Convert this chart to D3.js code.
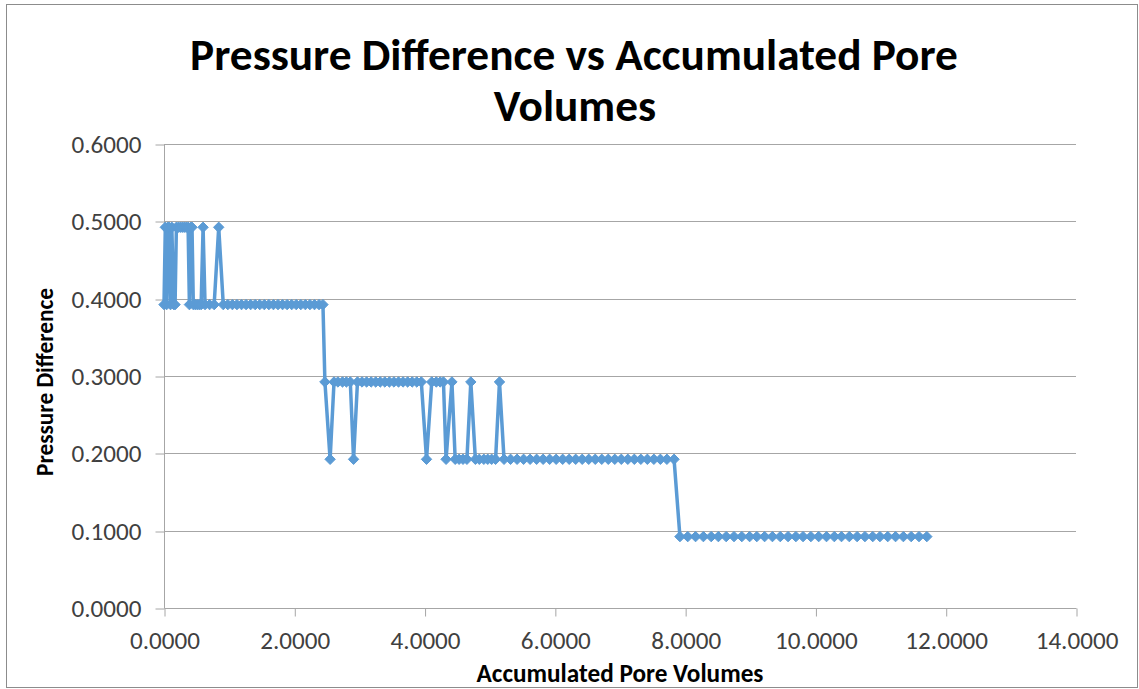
<!DOCTYPE html>
<html>
<head>
<meta charset="utf-8">
<script src="https://cdn.jsdelivr.net/npm/d3@7"></script>
<style>
  html, body { margin: 0; padding: 0; background: #fff; }
  svg { display: block; }
  text { font-family: Carlito, Calibri, Lato, "Open Sans", sans-serif; }
</style>
</head>
<body>
<svg id="chart" width="1139" height="689"></svg>
<script>
// ---------------- DATA ----------------
const chartTitle = ["Pressure Difference vs Accumulated Pore", "Volumes"];
const xTitle = "Accumulated Pore Volumes";
const yTitle = "Pressure Difference";
const xTicks = [0, 2, 4, 6, 8, 10, 12, 14];
const yTicks = [0, 0.1, 0.2, 0.3, 0.4, 0.5, 0.6];

// [accumulated pore volumes, pressure difference]
const points = [
  [0.00,0.3923],[0.02,0.4923],[0.04,0.3923],[0.06,0.4923],[0.08,0.4923],[0.10,0.3923],
  [0.12,0.4923],[0.15,0.3923],[0.17,0.3923],[0.19,0.4923],[0.22,0.4923],[0.25,0.4923],
  [0.28,0.4923],[0.31,0.4923],[0.34,0.4923],[0.37,0.4923],[0.39,0.3923],[0.41,0.4923],
  [0.43,0.4923],[0.45,0.3923],[0.48,0.3923],[0.51,0.3923],[0.54,0.3923],[0.57,0.3923],
  [0.60,0.4923],[0.63,0.3923],[0.70,0.3923],[0.77,0.3923],[0.84,0.4923],[0.91,0.3923],
  [0.98,0.3923],[1.05,0.3923],[1.12,0.3923],[1.19,0.3923],[1.26,0.3923],[1.33,0.3923],
  [1.40,0.3923],[1.47,0.3923],[1.54,0.3923],[1.61,0.3923],[1.68,0.3923],[1.75,0.3923],
  [1.82,0.3923],[1.89,0.3923],[1.96,0.3923],[2.03,0.3923],[2.10,0.3923],[2.17,0.3923],
  [2.24,0.3923],[2.31,0.3923],[2.38,0.3923],[2.44,0.3923],
  [2.47,0.2923],[2.55,0.1923],[2.61,0.2923],[2.67,0.2923],[2.74,0.2923],[2.80,0.2923],
  [2.86,0.2923],[2.91,0.1923],[2.97,0.2923],[3.04,0.2923],[3.11,0.2923],[3.18,0.2923],
  [3.25,0.2923],[3.32,0.2923],[3.39,0.2923],[3.46,0.2923],[3.53,0.2923],[3.60,0.2923],
  [3.67,0.2923],[3.74,0.2923],[3.81,0.2923],[3.88,0.2923],[3.95,0.2923],[4.03,0.1923],
  [4.11,0.2923],[4.18,0.2923],[4.24,0.2923],[4.29,0.2923],[4.33,0.1923],[4.42,0.2923],
  [4.47,0.1923],[4.53,0.1923],[4.59,0.1923],[4.65,0.1923],[4.71,0.2923],[4.78,0.1923],
  [4.84,0.1923],[4.91,0.1923],[4.97,0.1923],[5.03,0.1923],[5.09,0.1923],[5.15,0.2923],
  [5.22,0.1923],[5.32,0.1923],[5.42,0.1923],[5.52,0.1923],[5.62,0.1923],[5.72,0.1923],
  [5.82,0.1923],[5.92,0.1923],[6.02,0.1923],[6.12,0.1923],[6.22,0.1923],[6.32,0.1923],
  [6.42,0.1923],[6.52,0.1923],[6.62,0.1923],[6.72,0.1923],[6.82,0.1923],[6.92,0.1923],
  [7.02,0.1923],[7.12,0.1923],[7.22,0.1923],[7.32,0.1923],[7.42,0.1923],[7.52,0.1923],
  [7.62,0.1923],[7.72,0.1923],[7.83,0.1923],
  [7.92,0.0923],[8.04,0.0923],[8.16,0.0923],[8.28,0.0923],[8.40,0.0923],[8.51,0.0923],
  [8.63,0.0923],[8.75,0.0923],[8.87,0.0923],[8.99,0.0923],[9.10,0.0923],[9.22,0.0923],
  [9.34,0.0923],[9.46,0.0923],[9.58,0.0923],[9.70,0.0923],[9.81,0.0923],[9.93,0.0923],
  [10.05,0.0923],[10.17,0.0923],[10.29,0.0923],[10.40,0.0923],[10.52,0.0923],[10.64,0.0923],
  [10.76,0.0923],[10.88,0.0923],[10.99,0.0923],[11.11,0.0923],[11.23,0.0923],[11.35,0.0923],
  [11.47,0.0923],[11.59,0.0923],[11.71,0.0923]
];

// ---------------- LAYOUT ----------------
const W = 1139, H = 689;
const plot = { left: 164, right: 1076, top: 144, bottom: 608 };
const seriesColor = "#5b9bd5";
const gridColor = "#a6a6a6";
const labelColor = "#404040";

const svg = d3.select("#chart");

// outer frame
svg.append("rect")
  .attr("x", 6.5).attr("y", 4.5)
  .attr("width", 1131).attr("height", 683)
  .attr("fill", "#fff").attr("stroke", "#8c8c8c").attr("stroke-width", 1);

const x = d3.scaleLinear().domain([0, 14]).range([plot.left, plot.right]);
const y = d3.scaleLinear().domain([0, 0.6]).range([plot.bottom, plot.top]);

function fitWidth(sel, target) {
  const node = sel.node();
  const fs = parseFloat(sel.attr("font-size"));
  const w = node.getComputedTextLength();
  if (w > 0) sel.attr("font-size", (fs * target / w).toFixed(2));
}

// gridlines
svg.append("g").selectAll("line")
  .data(yTicks.filter(d => d > 0))
  .join("line")
  .attr("x1", plot.left).attr("x2", plot.right)
  .attr("y1", d => Math.round(y(d)) + 0.5).attr("y2", d => Math.round(y(d)) + 0.5)
  .attr("stroke", gridColor).attr("stroke-width", 1);

// y axis
const yAxis = d3.axisLeft(y).tickValues(yTicks).tickSize(9).tickPadding(14)
  .tickFormat(d => d.toFixed(4));
const gy = svg.append("g").attr("transform", `translate(${plot.left + 0.5},0.5)`).call(yAxis);
gy.select(".domain").attr("stroke", gridColor).attr("d", `M0,${plot.top}V${plot.bottom}`);
gy.selectAll(".tick line").attr("stroke", gridColor)
  .attr("transform", d => `translate(0,${Math.round(y(d)) - y(d)})`);
gy.selectAll(".tick text").attr("fill", labelColor).attr("font-size", 20)
  .attr("font-family", "Carlito, Calibri, Lato, sans-serif");

// x axis
const xAxis = d3.axisBottom(x).tickValues(xTicks).tickSize(8).tickPadding(15)
  .tickFormat(d => d.toFixed(4));
const gx = svg.append("g").attr("transform", `translate(0.5,${plot.bottom + 0.5})`).call(xAxis);
gx.select(".domain").attr("stroke", gridColor).attr("d", `M${plot.left},0H${plot.right}`);
gx.selectAll(".tick line").attr("stroke", gridColor);
gx.selectAll(".tick text").attr("fill", labelColor).attr("font-size", 20)
  .attr("font-family", "Carlito, Calibri, Lato, sans-serif");

// fit tick label font to reference width (~70px for "0.6000")
{
  const probe = gy.select(".tick text");
  const w = probe.node().getComputedTextLength();
  const fs = 20 * 70 / w;
  gy.selectAll(".tick text").attr("font-size", fs);
  gx.selectAll(".tick text").attr("font-size", fs);
}

// series line
const line = d3.line().x(d => x(d[0])).y(d => y(d[1]));
svg.append("path")
  .datum(points)
  .attr("d", line)
  .attr("fill", "none")
  .attr("stroke", seriesColor)
  .attr("stroke-width", 3.5)
  .attr("stroke-linejoin", "round");

// diamond markers
const diamond = "M0,-5.2L5.2,0L0,5.2L-5.2,0Z";
svg.append("g").selectAll("path")
  .data(points)
  .join("path")
  .attr("d", diamond)
  .attr("transform", d => `translate(${x(d[0])},${y(d[1])})`)
  .attr("fill", seriesColor)
  .attr("stroke", seriesColor)
  .attr("stroke-width", 1);

// title
const t1 = svg.append("text")
  .attr("x", 574).attr("y", 70)
  .attr("text-anchor", "middle")
  .attr("font-size", 36).attr("font-weight", "bold").attr("fill", "#000")
  .text(chartTitle[0]);
fitWidth(t1, 768);
svg.append("text")
  .attr("x", 575).attr("y", 121)
  .attr("text-anchor", "middle")
  .attr("font-size", t1.attr("font-size")).attr("font-weight", "bold").attr("fill", "#000")
  .text(chartTitle[1]);

// axis titles
const xt = svg.append("text")
  .attr("x", 620).attr("y", 682)
  .attr("text-anchor", "middle")
  .attr("font-size", 18).attr("font-weight", "bold").attr("fill", "#000")
  .text(xTitle);
fitWidth(xt, 287);

const yt = svg.append("text")
  .attr("transform", `translate(53,382) rotate(-90)`)
  .attr("text-anchor", "middle")
  .attr("font-size", 18).attr("font-weight", "bold").attr("fill", "#000")
  .text(yTitle);
fitWidth(yt, 188);
</script>
</body>
</html>
